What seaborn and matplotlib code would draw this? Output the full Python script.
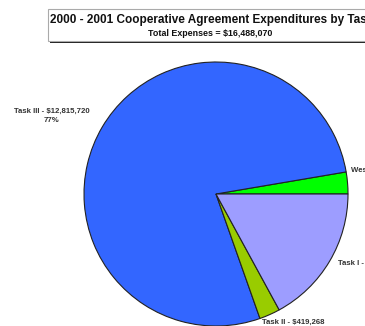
import matplotlib
matplotlib.use("Agg")
import matplotlib.pyplot as plt
from matplotlib.patches import Rectangle
import seaborn as sns

# Expenditure by task (dollars), listed counter-clockwise from 3 o'clock
tasks = ["Western", "Task III", "Task II", "Task I"]
amounts = [441260, 12815720, 419268, 2811822]
colors = ["#00ff00", "#3366ff", "#99cc00", "#9d9dff"]
total = sum(amounts)

title_main = "2000 - 2001 Cooperative Agreement Expenditures by Task"
title_sub = f"Total Expenses = ${total:,}"

sns.set_theme(style="white")
plt.rcParams["font.family"] = ["Liberation Sans", "DejaVu Sans"]

W, H = 365, 326
fig = plt.figure(figsize=(W / 100, H / 100), dpi=100)
ax = fig.add_axes([0, 0, 1, 1])

ax.pie(amounts, colors=colors, startangle=0, counterclock=True,
       center=(216, H - 194), radius=132, frame=True,
       wedgeprops=dict(edgecolor="#222222", linewidth=0.8))
ax.set_xlim(0, W)
ax.set_ylim(0, H)
ax.set_aspect("equal")
ax.axis("off")

# Title box with drop shadow
ax.add_patch(Rectangle((50, H - 43), 330, 32, facecolor="#222222",
                       edgecolor="none", zorder=5))
ax.add_patch(Rectangle((48, H - 41), 330, 32, facecolor="white",
                       edgecolor="#aaaaaa", linewidth=0.8, zorder=6))
ax.text(50, H - 20, title_main, ha="left", va="center", fontsize=8.5,
        fontweight="bold", color="#111111", zorder=7)
ax.text(210, H - 33, title_sub, ha="center", va="center", fontsize=6.4,
        fontweight="bold", color="#111111", zorder=7)


def pct(v):
    return f"{int(100 * v / total)}%"


lab_kw = dict(fontsize=5.6, fontweight="bold", color="#333333",
              ha="center", va="center", linespacing=1.5)
ax.text(52, H - 116, f"{tasks[1]} - ${amounts[1]:,}\n{pct(amounts[1])}", **lab_kw)
ax.text(351, H - 170, f"{tasks[0]} - ${amounts[0]:,}",
        **{**lab_kw, "ha": "left"})
ax.text(338, H - 263, f"{tasks[3]} - ${amounts[3]:,}",
        **{**lab_kw, "ha": "left"})
ax.text(262, H - 319, f"{tasks[2]} - ${amounts[2]:,}\n{pct(amounts[2])}",
        **{**lab_kw, "ha": "left", "va": "top"})

fig.savefig("out.png", dpi=100, facecolor="white")
